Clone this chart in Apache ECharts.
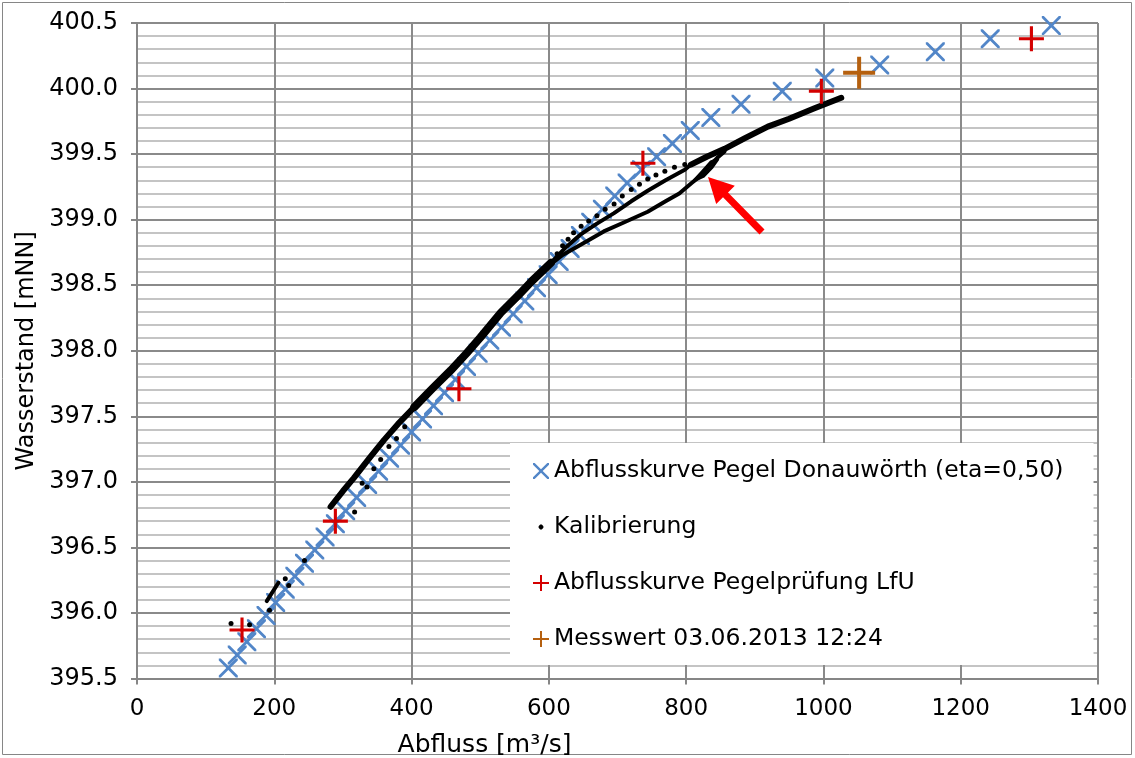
<!DOCTYPE html>
<html><head><meta charset="utf-8">
<script src="https://cdn.jsdelivr.net/npm/echarts@6/dist/echarts.min.js"></script>
<style>html,body{margin:0;padding:0;background:#fff}#c{width:1135px;height:758px}</style>
</head><body><div id="c"></div>
<script>
// ---- data ----
const seriesNames = ['Abflusskurve Pegel Donauwörth (eta=0,50)', 'Kalibrierung', 'Abflusskurve Pegelprüfung LfU', 'Messwert 03.06.2013 12:24'];
const xTicks = [0, 200, 400, 600, 800, 1000, 1200, 1400];
const yTicks = ['395.5','396.0','396.5','397.0','397.5','398.0','398.5','399.0','399.5','400.0','400.5'];

const pegelDonauwoerth = [
  [133,395.58],[146,395.68],[160,395.78],[174,395.88],[188,395.98],[202,396.08],[216,396.18],[230,396.28],
  [244,396.38],[259,396.48],[274,396.58],[289,396.68],[304,396.78],[320,396.88],[336,396.98],[352,397.08],
  [368,397.18],[384,397.28],[400,397.38],[416,397.48],[432,397.58],[448,397.68],[464,397.78],[480,397.88],
  [497,397.98],[514,398.08],[531,398.18],[548,398.28],[565,398.38],[582,398.48],[599,398.58],[615,398.68],
  [631,398.78],[646,398.88],[661,398.98],[678,399.08],[696,399.18],[714,399.28],[735,399.38],[757,399.48],
  [780,399.58],[806,399.68],[836,399.78],[880,399.88],[940,399.98],[1002,400.08],[1082,400.18],[1163,400.28],
  [1243,400.38],[1332,400.48]
];
const pegelpruefungLfU = [[153,395.87],[289,396.70],[469,397.71],[737,399.43],[997,399.98],[1303,400.38]];
const messwert = [[1052,400.12]];

// Kalibrierung: dense band and its branches
const kalibBandLow = [[282,396.81],[300,396.93],[316,397.03],[340,397.19],[360,397.32],[380,397.44],[404,397.57],[430,397.71]];
const kalibBandHigh = [[404,397.57],[430,397.71],[457,397.85],[480,397.98],[500,398.10],[530,398.29],[555,398.42],[575,398.53],[603,398.67]];
const kalibUpper = [[603,398.67],[625,398.79],[647,398.89],[670,398.97],[695,399.05],[720,399.14],[744,399.22],[770,399.30],[798,399.38],[807,399.42]];
const kalibMerged = [[807,399.42],[830,399.48],[856,399.54],[885,399.62],[919,399.71],[950,399.77],[987,399.85],[1026,399.93]];
const kalibLower = [
  [603,398.66],[620,398.73],[647,398.81],[680,398.91],[710,398.98],[744,399.06],[770,399.14],[790,399.20],
  [808,399.28],[820,399.33],[832,399.40],[845,399.47],[856,399.52]
];
const kalibLoop = [[812,399.30],[825,399.33],[838,399.40],[846,399.46],[836,399.44],[824,399.37],[812,399.30]];
const kalibDash = [[189,396.09],[206,396.23]];
const kalibDots = [
  [137,395.92],[164,395.91],[193,396.02],[216,396.26],[221,396.21],[244,396.40],[317,396.77],[328,396.99],
  [335,396.96],[345,397.10],[355,397.17],[367,397.27],[378,397.33],[390,397.42],
  [612,398.74],[620,398.80],[628,398.85],[636,398.90],[647,398.95],[658,398.99],[670,399.03],[682,399.08],
  [695,399.12],[707,399.18],[720,399.23],[732,399.27],[744,399.31],[756,399.34],[769,399.37],[783,399.40],
  [798,399.42]
];

// ---- styles ----
const FONT = 'DejaVu Sans, Liberation Sans, Arial, sans-serif';
const X_PATH = 'path://M0,0 L2.1,0 L10,7.9 L17.9,0 L20,0 L20,2.1 L12.1,10 L20,17.9 L20,20 L17.9,20 L10,12.1 L2.1,20 L0,20 L0,17.9 L7.9,10 L0,2.1 Z';
const PLUS_PATH = 'path://M10.5,0 H13.5 V10.5 H24 V13.5 H13.5 V24 H10.5 V13.5 H0 V10.5 H10.5 Z';
const DOT_PATH = 'path://M0,0 L0.01,0 L0,0.01 Z M20,20 L19.99,20 L20,19.99 Z M9,7 L11,7 L13,9 L13,11 L11,13 L9,13 L7,11 L7,9 Z';
const BLUE = '#5286C8', RED = '#D40000', BROWN = '#B5600F', BLACK = '#000';

const chart = echarts.init(document.getElementById('c'), null, {renderer: 'canvas'});
const kalLine = (data, w) => ({
  name: seriesNames[1], type: 'line', data, symbol: 'none', showSymbol: false, silent: true,
  lineStyle: {color: BLACK, width: w, cap: 'round', join: 'round'}, itemStyle: {color: BLACK}, z: 3
});

chart.setOption({
  animation: false,
  backgroundColor: '#fff',
  textStyle: {fontFamily: FONT},
  grid: {left: 137, right: 37, top: 23, bottom: 79.5, containLabel: false, outerBoundsMode: 'none'},
  xAxis: {
    type: 'value', min: xTicks[0], max: xTicks[xTicks.length - 1], interval: 200,
    name: 'Abfluss [m³/s]', nameLocation: 'middle', nameGap: 54,
    nameTextStyle: {fontSize: 25, color: '#000', fontFamily: FONT, padding: [0, 266, 0, 0]},
    axisLine: {show: true, onZero: false, lineStyle: {color: '#868686', width: 2}},
    axisTick: {show: true, length: 6, lineStyle: {color: '#868686', width: 2}},
    axisLabel: {fontSize: 23, color: '#000', margin: 19, fontFamily: FONT, formatter: v => String(v)},
    splitLine: {show: true, lineStyle: {color: '#8A8A8A', width: 2}}
  },
  yAxis: {
    type: 'value', min: 395.5, max: 400.5, interval: 0.5,
    name: 'Wasserstand [mNN]', nameLocation: 'middle', nameGap: 89, nameRotate: 90,
    nameTextStyle: {fontSize: 24, color: '#000', fontFamily: FONT},
    axisLine: {show: true, onZero: false, lineStyle: {color: '#868686', width: 2}},
    axisTick: {show: true, length: 6, lineStyle: {color: '#868686', width: 2}},
    axisLabel: {fontSize: 24, color: '#000', margin: 19, fontFamily: FONT,
      formatter: v => yTicks.find(t => Math.abs(parseFloat(t) - v) < 1e-6) || v.toFixed(1)},
    splitLine: {show: true, lineStyle: {color: '#8A8A8A', width: 2}},
    minorTick: {show: false, splitNumber: 5},
    minorSplitLine: {show: true, lineStyle: {color: '#C4C4C4', width: 2}}
  },
  legend: {
    orient: 'vertical', left: 510, top: 443,
    padding: [13, 30, 11, 23], backgroundColor: '#fff', borderWidth: 0,
    itemGap: 26, itemWidth: 16, itemHeight: 16,
    textStyle: {fontSize: 23.5, lineHeight: 30, color: '#000', fontFamily: FONT},
    data: [
      {name: seriesNames[0], icon: X_PATH, itemStyle: {color: BLUE}},
      {name: seriesNames[1], icon: DOT_PATH, itemStyle: {color: BLACK}},
      {name: seriesNames[2], icon: PLUS_PATH, itemStyle: {color: RED}},
      {name: seriesNames[3], icon: PLUS_PATH, itemStyle: {color: BROWN}}
    ]
  },
  series: [
    {name: seriesNames[0], type: 'scatter', data: pegelDonauwoerth, symbol: X_PATH, symbolSize: 19,
      itemStyle: {color: BLUE, opacity: 1}, z: 2},
    {name: seriesNames[1], type: 'scatter', data: kalibDots, symbol: 'circle', symbolSize: 5,
      itemStyle: {color: BLACK, opacity: 1}, z: 3},
    kalLine(kalibBandLow, 6),
    kalLine(kalibBandHigh, 8),
    kalLine(kalibUpper, 4),
    kalLine(kalibMerged, 6),
    kalLine(kalibLower, 4),
    kalLine(kalibLoop, 3),
    kalLine(kalibDash, 4),
    {name: seriesNames[2], type: 'scatter', data: pegelpruefungLfU, symbol: PLUS_PATH, symbolSize: 25,
      itemStyle: {color: RED, opacity: 1}, z: 4},
    {name: seriesNames[3], type: 'scatter', data: messwert, symbol: PLUS_PATH, symbolSize: 32,
      itemStyle: {color: BROWN, opacity: 1}, z: 4}
  ],
  graphic: [
    {type: 'rect', shape: {x: 2.5, y: 2.5, width: 1129, height: 752}, style: {fill: null, stroke: '#868686', lineWidth: 1}, silent: true, z: 0},
    {type: 'polygon', shape: {points: [[708,177],[734.8,185.8],[728,192.4],[764.5,229.6],[759.5,234.5],[723,197.3],[716.2,204]]},
      style: {fill: '#FF0000'}, silent: true, z: 10}
  ]
});
</script></body></html>
